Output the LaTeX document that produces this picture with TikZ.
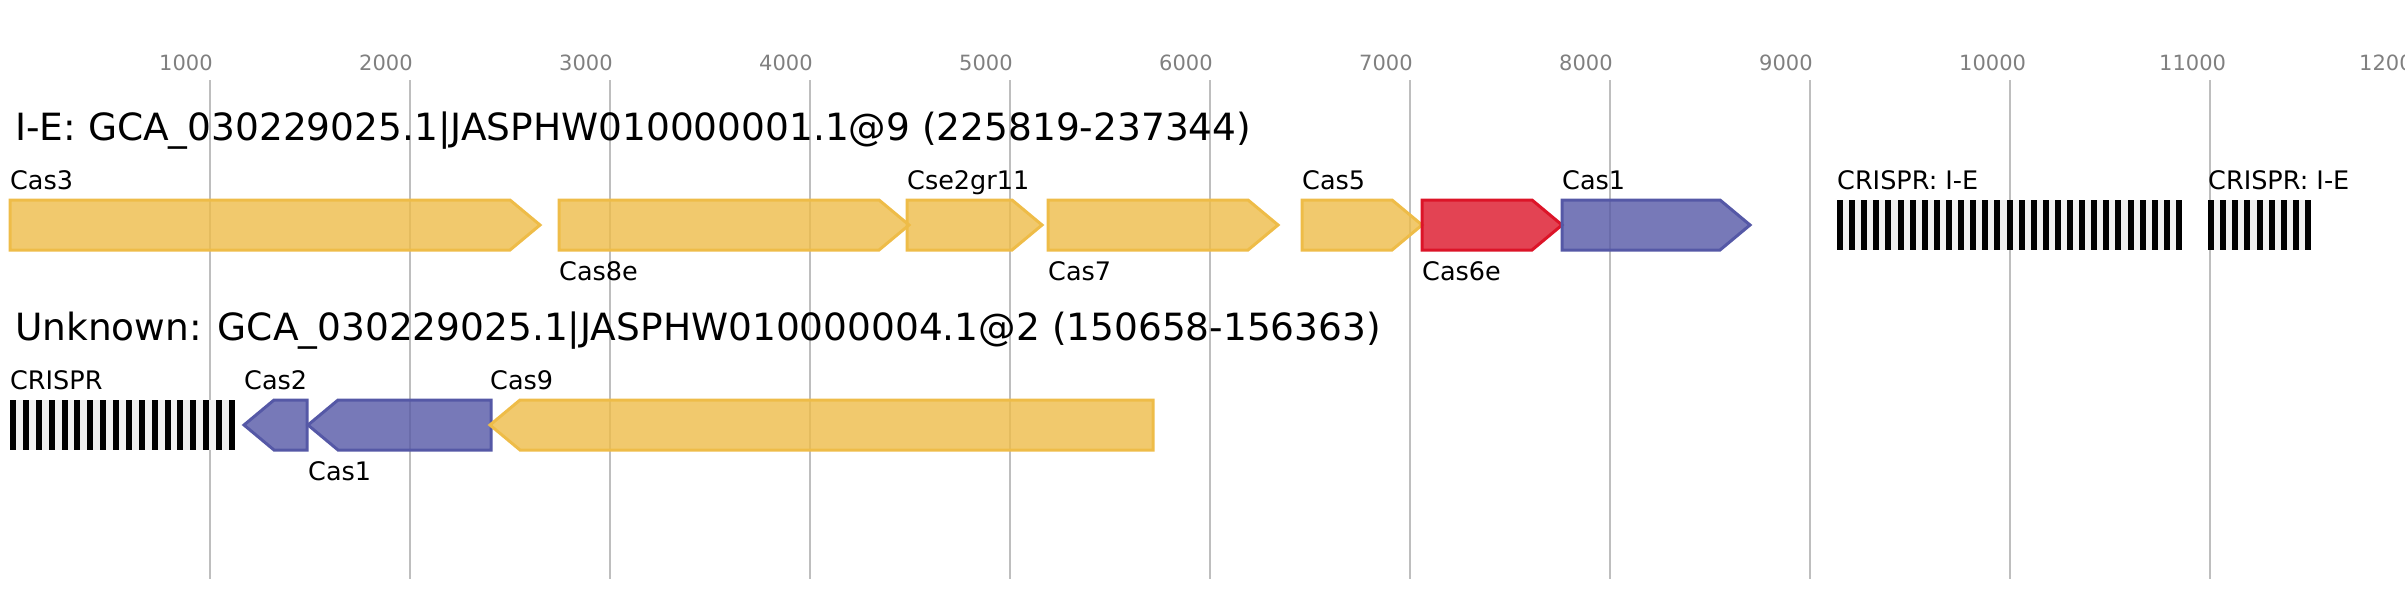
\documentclass[tikz,border=0pt]{standalone}
\usepackage{fontspec}
\setmainfont{DejaVu Sans}
\definecolor{geneyel}{RGB}{238,188,72}
\definecolor{genered}{RGB}{220,20,40}
\definecolor{geneblue}{RGB}{85,88,166}
\definecolor{gridgray}{RGB}{190,190,190}
\definecolor{tickgray}{RGB}{128,128,128}
\definecolor{arraybg}{RGB}{240,240,240}

\begin{document}
\begin{tikzpicture}[x=1pt, y=-1pt,
    gene/.style = {line width=3pt, line join=miter, fill opacity=0.8},
    yelgene/.style = {gene, draw=geneyel, fill=geneyel},
    redgene/.style = {gene, draw=genered, fill=genered},
    bluegene/.style = {gene, draw=geneblue, fill=geneblue},
    gridline/.style = {draw=gridgray, line width=2pt},
    lbl/.style = {anchor=base west, inner sep=0pt, font=\fontsize{25.5}{30}\selectfont},
    ttl/.style = {anchor=base west, inner sep=0pt, font=\fontsize{37.5}{45}\selectfont},
    ticklbl/.style = {anchor=base west, inner sep=0pt, text=tickgray, font=\fontsize{21}{25}\selectfont}]
        \useasboundingbox (0,0) rectangle (2405,600);
        \clip (0,0) rectangle (2405,600);
        %Scale
        \foreach \k in {1,...,12}{
            \pgfmathtruncatemacro{\bp}{1000*\k}
            \draw [gridline] ({10+200*\k},80) -- ({10+200*\k},579);
            \node [ticklbl] (tick\k) at ({10+200*\k-51},70) {\bp};
        }

        %Row 1
        \node [ttl] (title1) at (15,140) {I-E: GCA\_030229025.1|JASPHW010000001.1@9 (225819-237344)};
        %Cas3
        \draw [yelgene] (10,200) -- (510,200) -- (540,225) -- (510,250) -- (10,250) -- cycle;
        \node [lbl] (cas3) at (10,189) {Cas3};
        %Cas8e
        \draw [yelgene] (559,200) -- (879,200) -- (909,225) -- (879,250) -- (559,250) -- cycle;
        \node [lbl] (cas8e) at (559,280) {Cas8e};
        %Cse2gr11
        \draw [yelgene] (907,200) -- (1012,200) -- (1042,225) -- (1012,250) -- (907,250) -- cycle;
        \node [lbl] (cse2) at (907,189) {Cse2gr11};
        %Cas7
        \draw [yelgene] (1048,200) -- (1248,200) -- (1278,225) -- (1248,250) -- (1048,250) -- cycle;
        \node [lbl] (cas7) at (1048,280) {Cas7};
        %Cas5
        \draw [yelgene] (1302,200) -- (1392,200) -- (1422,225) -- (1392,250) -- (1302,250) -- cycle;
        \node [lbl] (cas5) at (1302,189) {Cas5};
        %Cas6e
        \draw [redgene] (1422,200) -- (1532,200) -- (1562,225) -- (1532,250) -- (1422,250) -- cycle;
        \node [lbl] (cas6e) at (1422,280) {Cas6e};
        %Cas1
        \draw [bluegene] (1562,200) -- (1720,200) -- (1750,225) -- (1720,250) -- (1562,250) -- cycle;
        \node [lbl] (cas1a) at (1562,189) {Cas1};
        %CRISPR arrays
        \fill [arraybg] (1837,200) rectangle (2182,250);
        \foreach \i in {0,...,28}
            \fill ({1837+12.107*\i},200) rectangle ++(6,50);
        \node [lbl] (crisprA) at (1837,189) {CRISPR: I-E};
        \fill [arraybg] (2208,200) rectangle (2311,250);
        \foreach \i in {0,...,8}
            \fill ({2208+12.125*\i},200) rectangle ++(6,50);
        \node [lbl] (crisprB) at (2208,189) {CRISPR: I-E};

        %Row 2
        \node [ttl] (title2) at (15,340) {Unknown: GCA\_030229025.1|JASPHW010000004.1@2 (150658-156363)};
        %CRISPR
        \fill [arraybg] (10,400) rectangle (235,450);
        \foreach \i in {0,...,17}
            \fill ({10+12.882*\i},400) rectangle ++(6,50);
        \node [lbl] (crisprC) at (10,389) {CRISPR};
        %Cas2
        \draw [bluegene] (244,425) -- (274,400) -- (307,400) -- (307,450) -- (274,450) -- cycle;
        \node [lbl] (cas2) at (244,389) {Cas2};
        %Cas1
        \draw [bluegene] (308,425) -- (338,400) -- (491,400) -- (491,450) -- (338,450) -- cycle;
        \node [lbl] (cas1b) at (308,480) {Cas1};
        %Cas9
        \draw [yelgene] (490,425) -- (520,400) -- (1153,400) -- (1153,450) -- (520,450) -- cycle;
        \node [lbl] (cas9) at (490,389) {Cas9};

    \end{tikzpicture}
\end{document}
